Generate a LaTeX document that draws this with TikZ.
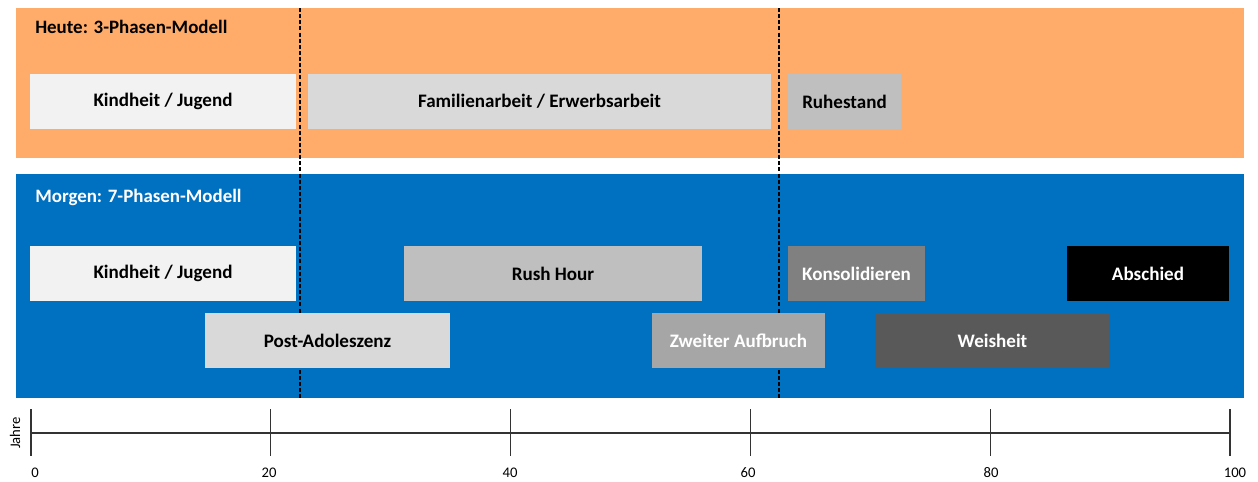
\documentclass[tikz,border=0pt]{standalone}
\usepackage{fontspec}
\setmainfont{Carlito}
\definecolor{heute}{RGB}{255,172,107}
\definecolor{morgen}{RGB}{0,112,192}
\definecolor{g1}{RGB}{242,242,242}
\definecolor{g2}{RGB}{217,217,217}
\definecolor{g3}{RGB}{191,191,191}
\definecolor{g4}{RGB}{166,166,166}
\definecolor{g5}{RGB}{128,128,128}
\definecolor{g6}{RGB}{89,89,89}
\begin{document}
\begin{tikzpicture}[x=0.75pt,y=-0.75pt,
  panel/.style={draw=none,inner sep=0pt,anchor=north west},
  bar/.style={draw=none,inner sep=0pt,minimum height=41.25pt,font=\fontsize{14.3}{16}\selectfont\bfseries},
  darkbar/.style={bar,text=white},
  title/.style={anchor=west,inner sep=0pt,font=\fontsize{14.2}{16}\selectfont\bfseries},
  divider/.style={line width=1.2pt,dash pattern=on 3pt off 1.6pt},
  axisline/.style={line width=0.8pt,black!80},
  ticklabel/.style={inner sep=0pt,font=\fontsize{11}{13}\selectfont}]
\useasboundingbox (0,0) rectangle (1258,482);
% panels
\node[panel,fill=heute,minimum width=921pt,minimum height=112.5pt] (heute) at (16,8) {};
\node[panel,fill=morgen,minimum width=921pt,minimum height=168pt] (morgen) at (16,174) {};
\node[title] (theute) at (35,27) {Heute: 3-Phasen-Modell};
\node[title,text=white] (tmorgen) at (35,197) {Morgen: 7-Phasen-Modell};
% dividers (behind the bars)
\coordinate (d1t) at (300,8); \coordinate (d1b) at (300,398);
\coordinate (d2t) at (779,8); \coordinate (d2b) at (779,398);
\draw[divider] (d1t) -- (d1b);
\draw[divider] (d2t) -- (d2b);
% today
\node[bar,fill=g1,minimum width=199.5pt] (kj1) at (163,101.5) {Kindheit / Jugend};
\node[bar,fill=g2,minimum width=347.25pt] (fam) at (539.5,101.5) {Familienarbeit / Erwerbsarbeit};
\node[bar,fill=g3,minimum width=84.75pt] (ruh) at (844.5,101.5) {Ruhestand};
% tomorrow
\node[bar,fill=g1,minimum width=199.5pt] (kj2) at (163,273.5) {Kindheit / Jugend};
\node[bar,fill=g3,minimum width=223.5pt] (rush) at (553,273.5) {Rush Hour};
\node[darkbar,fill=g5,minimum width=102.75pt] (kons) at (856.5,273.5) {Konsolidieren};
\node[darkbar,fill=black,minimum width=121.5pt] (absch) at (1148,273.5) {Abschied};
\node[bar,fill=g2,minimum width=183.75pt] (post) at (327.5,340.5) {Post-Adoleszenz};
\node[darkbar,fill=g4,minimum width=129.75pt] (zweit) at (738.5,340.5) {Zweiter Aufbruch};
\node[darkbar,fill=g6,minimum width=174.75pt] (weis) at (992.5,340.5) {Weisheit};
% axis
\coordinate (a0) at (31,433); \coordinate (a100) at (1230,433);
\draw[axisline] (a0) -- (a100);
\foreach \v/\lx [count=\i] in {0/35,20/269,40/510,60/748,80/991,100/1235}{
  \coordinate (tt\i) at ({31+11.99*\v},409);
  \coordinate (tb\i) at ({31+11.99*\v},456);
  \draw[axisline] (tt\i) -- (tb\i);
  \node[ticklabel] (tl\i) at (\lx,473) {\v};
}
\node[ticklabel,rotate=90] (jahre) at (15,433) {Jahre};
\end{tikzpicture}
\end{document}
